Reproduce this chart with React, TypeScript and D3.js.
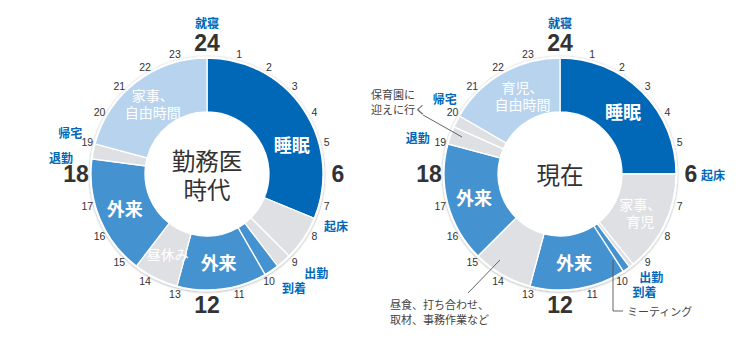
import { useEffect, useRef } from "react";
import * as d3 from "d3";

// 時刻の目盛り
const smallHours = [1, 2, 3, 4, 5, 7, 8, 9, 10, 11, 13, 14, 15, 16, 17, 19, 20, 21, 22, 23];
const bigHours = [0, 6, 12, 18];
const bigHourLabels = ["24", "6", "12", "18"];

// 勤務医時代
const leftBounds = [0, 7.5, 9, 9.5, 10, 13, 14.5, 18.5, 19, 24];
const leftKinds = ["sleep", "gray", "gray", "work", "work", "gray", "work", "gray", "free"];
const leftLabels = ["睡眠", "", "", "", "外来", "昼休み", "外来", "", "家事、\n自由時間"];
const leftEvents = ["就寝", "起床", "出勤", "到着", "退勤", "帰宅"];

// 現在
const rightBounds = [0, 6, 9.4, 9.55, 9.8, 13, 15, 19, 19.6, 20, 24];
const rightKinds = ["sleep", "gray", "gray", "work", "work", "gray", "work", "gray", "gray", "free"];
const rightLabels = ["睡眠", "家事、\n育児", "", "", "外来", "", "外来", "", "", "育児、\n自由時間"];
const rightEvents = ["就寝", "起床", "出勤", "到着", "退勤", "帰宅"];

const kindColor: Record<string, string> = {
  sleep: "#0068b7",
  work: "#4592d0",
  free: "#b8d3ee",
  gray: "#dfe0e4",
};

const JP = "'Noto Sans CJK JP', sans-serif";
const NUM = "'Liberation Sans', Arial, sans-serif";
const R_OUT = 116;
const R_IN = 62;

const App = () => {
  const ref = useRef<SVGSVGElement | null>(null);

  useEffect(() => {
    document.body.style.margin = "0";
    const svg = d3.select(ref.current);
    svg.selectAll("*").remove();

    const defs = svg.append("defs");
    defs
      .append("filter")
      .attr("id", "ring-shadow")
      .attr("x", "-20%")
      .attr("y", "-20%")
      .attr("width", "140%")
      .attr("height", "140%")
      .append("feDropShadow")
      .attr("dx", 0)
      .attr("dy", 0.5)
      .attr("stdDeviation", 1.3)
      .attr("flood-color", "#000")
      .attr("flood-opacity", 0.4);

    const angle = d3.scaleLinear().domain([0, 24]).range([0, 2 * Math.PI]);

    const drawClock = (
      cx: number,
      cy: number,
      bounds: number[],
      kinds: string[],
      labels: string[],
      center: string[],
      events: string[],
      eventPlace: [number, number][],
      labelAt: Record<number, [number, number]>
    ) => {
      const g = svg.append("g").attr("transform", `translate(${cx},${cy})`);
      const polar = (h: number, r: number) => [r * Math.sin(angle(h)), -r * Math.cos(angle(h))];

      g.append("circle").attr("r", R_OUT + 1.5).attr("fill", "#fff").attr("filter", "url(#ring-shadow)");

      const segs = d3.pairs(bounds).map(([a, b], i) => ({ a, b, kind: kinds[i], label: labels[i], i }));
      const arc = d3
        .arc<any>()
        .innerRadius(R_IN)
        .outerRadius(R_OUT)
        .startAngle((d) => angle(d.a))
        .endAngle((d) => angle(d.b));

      g.selectAll("path.seg")
        .data(segs)
        .join("path")
        .attr("class", "seg")
        .attr("d", arc)
        .attr("fill", (d) => kindColor[d.kind])
        .attr("stroke", "#fff")
        .attr("stroke-width", 1.3);

      // 区間ラベル
      segs
        .filter((d) => d.label)
        .forEach((d) => {
          const [h, r] = labelAt[d.i] ?? [(d.a + d.b) / 2, (R_IN + R_OUT) / 2];
          const [x, y] = polar(h, r);
          const lines = d.label.split("\n");
          const big = lines.length === 1 && d.kind !== "gray";
          const fs = big ? 18 : 14;
          const lh = 17;
          const y0 = y - ((lines.length - 1) * lh) / 2;
          lines.forEach((ln, k) => {
            g.append("text")
              .attr("x", x)
              .attr("y", y0 + k * lh)
              .attr("text-anchor", "middle")
              .attr("dominant-baseline", "central")
              .attr("fill", "#fff")
              .style("font-family", JP)
              .style("font-size", `${fs}px`)
              .style("font-weight", big ? 700 : 400)
              .text(ln);
          });
        });

      // 中央
      center.forEach((ln, k) => {
        g.append("text")
          .attr("x", 0)
          .attr("y", -((center.length - 1) * 29) / 2 + k * 29)
          .attr("text-anchor", "middle")
          .attr("dominant-baseline", "central")
          .attr("fill", "#333")
          .style("font-family", JP)
          .style("font-size", "23.5px")
          .text(ln);
      });

      // 目盛り
      g.selectAll("text.small")
        .data(smallHours)
        .join("text")
        .attr("class", "small")
        .attr("x", (h) => polar(h, 124)[0])
        .attr("y", (h) => polar(h, 124)[1])
        .attr("text-anchor", "middle")
        .attr("dominant-baseline", "central")
        .attr("fill", "#333")
        .style("font-family", NUM)
        .style("font-size", "10.5px")
        .text((h) => h);

      g.selectAll("text.big")
        .data(bigHours)
        .join("text")
        .attr("class", "big")
        .attr("x", (h) => polar(h, 131)[0])
        .attr("y", (h) => polar(h, 131)[1])
        .attr("text-anchor", "middle")
        .attr("dominant-baseline", "central")
        .attr("fill", "#333")
        .style("font-family", NUM)
        .style("font-size", "23px")
        .style("font-weight", 700)
        .text((_, i) => bigHourLabels[i]);

      // 出来事
      events.forEach((ev, i) => {
        const [h, r] = eventPlace[i];
        const [x, y] = polar(h, r);
        g.append("text")
          .attr("x", x)
          .attr("y", y)
          .attr("text-anchor", "middle")
          .attr("dominant-baseline", "central")
          .attr("fill", "#0068b7")
          .style("font-family", JP)
          .style("font-size", "12px")
          .style("font-weight", 700)
          .text(ev);
      });
      return g;
    };

    drawClock(
      207,
      174,
      leftBounds,
      leftKinds,
      leftLabels,
      ["勤務医", "時代"],
      leftEvents,
      [
        [0, 152],
        [7.45, 139],
        [8.8, 147],
        [9.5, 143],
        [18.44, 147],
        [19.13, 143],
      ],
      { 0: [4.7, 90] }
    );

    const rg = drawClock(
      560,
      174,
      rightBounds,
      rightKinds,
      rightLabels,
      ["現在"],
      rightEvents,
      [
        [0, 152],
        [6.0, 153],
        [9.22, 137],
        [9.62, 145],
        [18.97, 147],
        [20.22, 138],
      ],
      { 1: [7.7, 89], 9: [22.3, 87] }
    );

    // 注記
    const note = (lines: string[], x: number, y: number) => {
      lines.forEach((ln, k) => {
        rg.append("text")
          .attr("x", x)
          .attr("y", y + k * 14.5)
          .attr("dominant-baseline", "central")
          .attr("fill", "#444")
          .style("font-family", JP)
          .style("font-size", "11px")
          .text(ln);
      });
    };
    const lead = (pts: [number, number][]) =>
      rg
        .append("path")
        .attr("d", d3.line()(pts))
        .attr("fill", "none")
        .attr("stroke", "#555")
        .attr("stroke-width", 0.9);

    note(["保育園に", "迎えに行く"], -189, -80);
    lead([
      [-137, -59],
      [-98, -37],
    ]);
    note(["昼食、打ち合わせ、", "取材、事務作業など"], -170, 130);
    lead([
      [-92, 119],
      [-60, 86],
    ]);
    note(["ミーティング"], 67, 137);
    lead([
      [53, 86],
      [53, 137],
      [63, 137],
    ]);
  }, []);

  return <svg ref={ref} width={750} height={350} style={{ display: "block", background: "#fff" }} />;
};

export default App;
